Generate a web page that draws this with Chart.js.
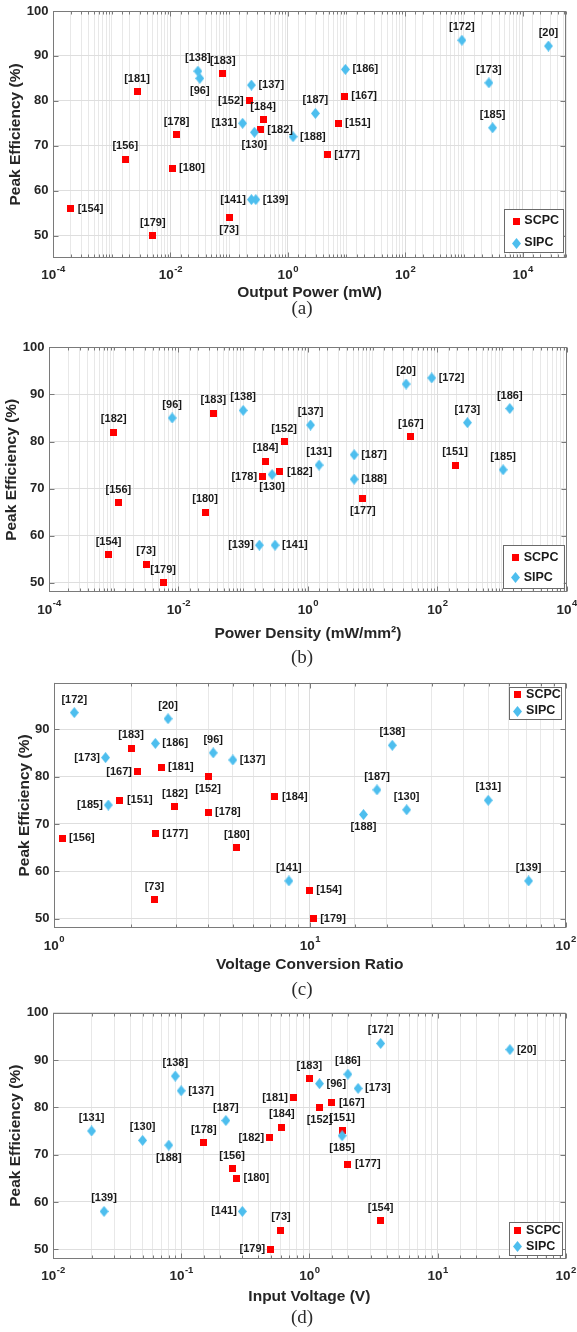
<!DOCTYPE html>
<html>
<head>
<meta charset="utf-8">
<script src="https://cdn.jsdelivr.net/npm/chart.js@4.4.1/dist/chart.umd.min.js"></script>
<style>
  body { margin: 0; background: #fff; width: 577px; height: 1332px; position: relative; overflow: hidden; }
  canvas { position: absolute; left: 0; }
  .cap { position: absolute; width: 60px; text-align: center; line-height: 20px;
         font-family: 'Liberation Serif', 'Times New Roman', serif; font-size: 19px; color: #2b2b2b; }
</style>
</head>
<body>
<canvas id="ca"></canvas>
<canvas id="cb"></canvas>
<canvas id="cc"></canvas>
<canvas id="cd"></canvas>
<div class="cap" style="left:272px;top:298px">(a)</div>
<div class="cap" style="left:272px;top:647px">(b)</div>
<div class="cap" style="left:272px;top:979px">(c)</div>
<div class="cap" style="left:272px;top:1307px">(d)</div>
<script>
// references and their peak efficiency (%) - same in all four plots
const scpcRefs = ['[73]','[151]','[152]','[154]','[156]','[167]','[177]','[178]','[179]','[180]','[181]','[182]','[183]','[184]'];
const scpcEff  = [54, 75, 80, 56, 67, 81, 68, 72.5, 50, 65, 82, 73.6, 86, 75.8];
const sipcRefs = ['[20]','[96]','[130]','[131]','[137]','[138]','[139]','[141]','[172]','[173]','[185]','[186]','[187]','[188]'];
const sipcEff  = [92.2, 85, 73, 75, 83.5, 86.6, 58, 58, 93.5, 84, 74, 87, 77.2, 72];
// plot (b) labels the [181] point as [182]
const scpcRefsB = ['[73]','[151]','[152]','[154]','[156]','[167]','[177]','[178]','[179]','[180]','[182]','[182]','[183]','[184]'];

// (a) output power (mW)
const scpcPower = [0.1, 7.2, 0.22, 2e-4, 1.7e-3, 9.2, 4.7, 0.0127, 5e-3, 0.0107, 2.7e-3, 0.34, 0.078, 0.38];
const sipcPower = [27600, 0.0317, 0.27, 0.17, 0.24, 0.0294, 0.285, 0.24, 927, 2670, 3090, 9.6, 2.96, 1.23];
// (b) power density (mW/mm2)
const scpcDensity = [3.16e-3, 188, 0.43, 8.3e-4, 1.18e-3, 39, 7.1, 0.2, 5.8e-3, 0.0258, 1e-3, 0.37, 0.0347, 0.223];
const sipcDensity = [33, 8e-3, 0.28, 1.49, 1.1, 0.1, 0.178, 0.311, 82, 292, 1040, 1320, 5.2, 5.2];
// (c) voltage conversion ratio
const scpcVcr = [2.47, 1.81, 4.0, 9.94, 1.075, 2.12, 2.49, 4.0, 10.3, 5.18, 2.62, 2.97, 2.0, 7.3];
const sipcVcr = [2.79, 4.19, 23.9, 49.8, 5.0, 21, 71.6, 8.28, 1.2, 1.59, 1.63, 2.49, 18.3, 16.2];
// (d) input voltage (V)
const scpcVin = [0.6, 1.8, 1.2, 3.6, 0.25, 1.5, 2.0, 0.15, 0.5, 0.27, 0.75, 0.49, 1.0, 0.61];
const sipcVin = [36.7, 1.2, 0.05, 0.02, 0.1, 0.09, 0.025, 0.3, 3.6, 2.4, 1.8, 2.0, 0.223, 0.08];

const effTicks = [50, 60, 70, 80, 90, 100];
const yTitle = 'Peak Efficiency (%)';

// where each point label sits: a = above, b = below, l = left, r = right
const scpcPosA = 'b r l r a r r a a r a r a a'.split(' ');
const sipcPosA = 'a b b l r a r l a a a r a r'.split(' ');
const scpcPosB = 'a a a a a a b l a a a r a a'.split(' ');
const sipcPosB = 'a a b a a a l r r a a a r r'.split(' ');
const scpcPosC = 'a r b r r l r r r a r a a r'.split(' ');
const sipcPosC = 'a a a a r a a a a l l r a b'.split(' ');
const scpcPosD = 'a a b a a r r a l r l l a a'.split(' ');
const sipcPosD = 'r r a a r a a l a r b a a b'.split(' ');

const FONT = "'Liberation Sans', Arial, sans-serif";
const INK = '#262626';
const TITLE_SIZE = 15.5, TITLE_LH = TITLE_SIZE * 1.2;

function makeMarker(kind) {
  const c = document.createElement('canvas');
  const g = c.getContext('2d');
  if (kind === 'square') {
    c.width = 7; c.height = 7;
    g.fillStyle = '#ff0000';
    g.fillRect(0, 0, 7, 7);
  } else {
    c.width = 9; c.height = 11;
    g.fillStyle = '#4dbeee';
    g.beginPath();
    g.moveTo(4.5, 0); g.lineTo(9, 5.5); g.lineTo(4.5, 11); g.lineTo(0, 5.5);
    g.closePath(); g.fill();
  }
  return c;
}
const squareMark = makeMarker('square');
const diamondMark = makeMarker('diamond');

// labelled decade? (step 2 -> only every other decade gets a label)
function isMajor(v, step) {
  const l = Math.log10(v);
  const r = Math.round(l);
  return Math.abs(l - r) < 1e-6 && ((r % step) + step) % step === 0;
}

const axesPlugin = {
  id: 'matlabAxes',
  afterDatasetsDraw(chart) {
    const ctx = chart.ctx;
    ctx.save();
    ctx.font = 'bold 11px ' + FONT;
    ctx.fillStyle = '#1a1a1a';
    chart.data.datasets.forEach((ds, di) => {
      const meta = chart.getDatasetMeta(di);
      meta.data.forEach((pt, i) => {
        const txt = ds.refText[i], pos = ds.refPos[i];
        let x = pt.x, y = pt.y;
        ctx.textBaseline = 'middle';
        if (pos === 'a') { ctx.textAlign = 'center'; y -= 13; }
        else if (pos === 'b') { ctx.textAlign = 'center'; y += 12.5; }
        else if (pos === 'r') { ctx.textAlign = 'left'; x += 7; }
        else { ctx.textAlign = 'right'; x -= 5.5; }
        ctx.fillText(txt, x, y);
      });
    });
    ctx.restore();
  },
  afterDraw(chart, args, opts) {
    const ctx = chart.ctx;
    const a = chart.chartArea;
    const sx = chart.scales.x, sy = chart.scales.y;
    const step = opts.step;
    const L = Math.round(a.left) + 0.5, R = Math.round(a.right) - 0.5;
    const T = Math.round(a.top) + 0.5, B = Math.round(a.bottom) - 0.5;
    ctx.save();
    ctx.strokeStyle = '#7a7a7a';
    ctx.lineWidth = 1;
    ctx.beginPath();
    // inward tick marks, bottom and top
    sx.ticks.forEach(t => {
      const x = Math.round(sx.getPixelForValue(t.value)) + 0.5;
      const len = isMajor(t.value, step) ? 5 : 3;
      ctx.moveTo(x, B); ctx.lineTo(x, B - len);
      ctx.moveTo(x, T); ctx.lineTo(x, T + len);
    });
    sy.ticks.forEach(t => {
      const y = Math.round(sy.getPixelForValue(t.value)) + 0.5;
      ctx.moveTo(L, y); ctx.lineTo(L + 5, y);
      ctx.moveTo(R, y); ctx.lineTo(R - 5, y);
    });
    ctx.stroke();
    ctx.strokeRect(L, T, R - L, B - T);

    // x tick labels as 10^k
    ctx.fillStyle = INK;
    ctx.textBaseline = 'middle';
    ctx.textAlign = 'left';
    const ty = a.bottom + 17.5;
    const lo = Math.ceil(Math.log10(sx.min) - 1e-9), hi = Math.floor(Math.log10(sx.max) + 1e-9);
    for (let k = lo; k <= hi; k++) {
      if (((k % step) + step) % step !== 0) continue;
      const x = sx.getPixelForValue(Math.pow(10, k));
      ctx.font = 'bold 13.5px ' + FONT;
      const w1 = ctx.measureText('10').width;
      ctx.font = 'bold 9.5px ' + FONT;
      const ex = String(k);
      const w2 = ctx.measureText(ex).width;
      const x0 = x - (w1 + w2) / 2;
      ctx.font = 'bold 13.5px ' + FONT;
      ctx.fillText('10', x0, ty);
      ctx.font = 'bold 9.5px ' + FONT;
      ctx.fillText(ex, x0 + w1 + 0.5, ty - 6);
    }

    // legend box
    const lg = opts.legend;
    const bx = a.right - lg.dx - lg.w;
    const by = lg.corner === 'se' ? a.bottom - lg.dy - lg.h : a.top + lg.dy;
    ctx.fillStyle = '#ffffff';
    ctx.fillRect(bx, by, lg.w, lg.h);
    ctx.strokeStyle = '#6a6a6a';
    ctx.strokeRect(Math.round(bx) + 0.5, Math.round(by) + 0.5, Math.round(lg.w), Math.round(lg.h));
    const entries = [[squareMark, 'SCPC'], [diamondMark, 'SIPC']];
    ctx.font = 'bold 12.5px ' + FONT;
    ctx.fillStyle = '#1a1a1a';
    entries.forEach((e, i) => {
      const cy = by + lg.rows[i];
      const m = e[0];
      ctx.drawImage(m, Math.round(bx + lg.mx - m.width / 2), Math.round(cy - m.height / 2));
      ctx.fillText(e[1], bx + lg.tx, cy);
    });
    ctx.restore();
  }
};

const panels = [
  { id: 'ca', top: 0, height: 325, plotTop: 11, plotBottom: 258, plotLeft: 53, plotRight: 566,
    xTitleY: 293, yTitleX: 16, xmin: 1e-4, xmax: 5.5e4, ymin: 45, ymax: 100, step: 2,
    xTitle: 'Output Power (mW)',
    scpcX: scpcPower, sipcX: sipcPower, scpcLab: scpcRefs, scpcPos: scpcPosA, sipcPos: sipcPosA,
    legend: { corner: 'se', dx: 2.7, dy: 6, w: 59, h: 43, mx: 12, tx: 20, rows: [12, 34] } },
  { id: 'cb', top: 325, height: 340, plotTop: 347.3, plotBottom: 592.3, plotLeft: 49, plotRight: 566.7,
    xTitleY: 634, yTitleX: 12, xmin: 1e-4, xmax: 1e4, ymin: 48, ymax: 100, step: 2,
    xTitle: 'Power Density (mW/mm\u00B2)',
    scpcX: scpcDensity, sipcX: sipcDensity, scpcLab: scpcRefsB, scpcPos: scpcPosB, sipcPos: sipcPosB,
    legend: { corner: 'se', dx: 3, dy: 4, w: 61, h: 43, mx: 13, tx: 21, rows: [12.7, 32.7] } },
  { id: 'cc', top: 665, height: 330, plotTop: 682.7, plotBottom: 928.3, plotLeft: 54, plotRight: 565.7,
    xTitleY: 965, yTitleX: 25, xmin: 1, xmax: 100, ymin: 48, ymax: 99.8, step: 1,
    xTitle: 'Voltage Conversion Ratio',
    scpcX: scpcVcr, sipcX: sipcVcr, scpcLab: scpcRefs, scpcPos: scpcPosC, sipcPos: sipcPosC,
    legend: { corner: 'ne', dx: 4.3, dy: 4, w: 52, h: 32, mx: 8.4, tx: 16.7, rows: [7.8, 24.3] } },
  { id: 'cd', top: 995, height: 337, plotTop: 1012.7, plotBottom: 1258.7, plotLeft: 53, plotRight: 565.7,
    xTitleY: 1297, yTitleX: 16, xmin: 0.01, xmax: 100, ymin: 48, ymax: 100, step: 1,
    xTitle: 'Input Voltage (V)',
    scpcX: scpcVin, sipcX: sipcVin, scpcLab: scpcRefs, scpcPos: scpcPosD, sipcPos: sipcPosD,
    legend: { corner: 'se', dx: 3.3, dy: 3.7, w: 53, h: 33, mx: 8, tx: 16.7, rows: [8.4, 24.4] } }
];

function buildChart(p) {
  const cv = document.getElementById(p.id);
  cv.width = 577; cv.height = p.height;
  cv.style.top = p.top + 'px';
  const rel = v => v - p.top;
  const scaleBottom = rel(p.xTitleY) + TITLE_LH / 2;
  const xH = scaleBottom - rel(p.plotBottom);
  const titleFont = { family: FONT, size: TITLE_SIZE, weight: 'bold' };

  new Chart(cv, {
    type: 'scatter',
    data: {
      datasets: [
        { label: 'SCPC', data: p.scpcX.map((x, i) => ({ x: x, y: scpcEff[i] })),
          pointStyle: squareMark, pointRadius: 5, pointHoverRadius: 5, order: 1,
          refText: p.scpcLab, refPos: p.scpcPos },
        { label: 'SIPC', data: p.sipcX.map((x, i) => ({ x: x, y: sipcEff[i] })),
          pointStyle: diamondMark, pointRadius: 5, pointHoverRadius: 5, order: 0,
          refText: sipcRefs, refPos: p.sipcPos }
      ]
    },
    options: {
      responsive: false,
      animation: false,
      devicePixelRatio: 1,
      layout: { padding: { left: 0, top: rel(p.plotTop), right: 577 - p.plotRight, bottom: p.height - scaleBottom } },
      plugins: {
        legend: { display: false },
        tooltip: { enabled: false },
        matlabAxes: { legend: p.legend, step: p.step }
      },
      scales: {
        x: {
          type: 'logarithmic', min: p.xmin, max: p.xmax,
          grid: { drawTicks: false, lineWidth: 1,
                  color: c => (c.tick && isMajor(c.tick.value, p.step)) ? '#dcdcdc' : '#e8e8e8' },
          border: { display: false },
          ticks: { display: false, autoSkip: false },
          title: { display: true, text: p.xTitle, font: titleFont, color: INK, padding: 0 },
          afterFit(s) { s.height = xH; s.paddingLeft = 0; s.paddingRight = 0; }
        },
        y: {
          type: 'linear', min: p.ymin, max: p.ymax,
          afterBuildTicks(s) { s.ticks = effTicks.filter(v => v >= s.min && v <= s.max).map(v => ({ value: v })); },
          grid: { drawTicks: false, color: '#dedede', lineWidth: 1 },
          border: { display: false },
          ticks: { font: { family: FONT, size: 13, weight: 'bold' }, color: INK, padding: 4.5 },
          title: { display: true, text: yTitle, font: titleFont, color: INK,
                   padding: { top: p.yTitleX - TITLE_LH / 2, bottom: 0 } },
          afterFit(s) { s.width = p.plotLeft; s.paddingTop = 0; s.paddingBottom = 0; }
        }
      }
    },
    plugins: [axesPlugin]
  });
}

panels.forEach(buildChart);
</script>
</body>
</html>
